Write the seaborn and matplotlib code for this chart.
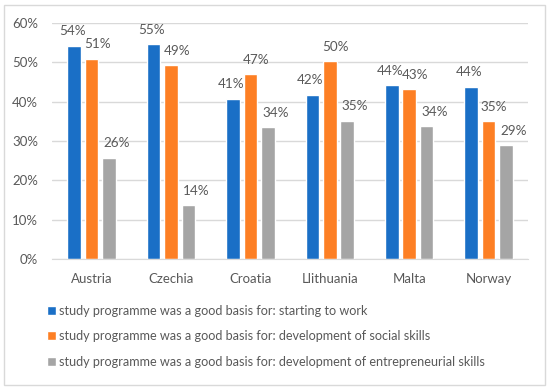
import numpy as np
import pandas as pd
import matplotlib
matplotlib.use("Agg")
import matplotlib.pyplot as plt
from matplotlib.patches import Rectangle
import seaborn as sns

countries = ["Austria", "Czechia", "Croatia", "Llithuania", "Malta", "Norway"]
series_names = [
    "study programme was a good basis for: starting to work",
    "study programme was a good basis for: development of social skills",
    "study programme was a good basis for: development of entrepreneurial skills",
]
start_work = [54.2, 54.7, 40.8, 41.8, 44.2, 43.8]
social = [50.9, 49.3, 47.0, 50.3, 43.2, 35.1]
entrepreneurial = [25.8, 13.6, 33.5, 35.2, 33.7, 29.0]
colors = ["#1a6fc6", "#fd7f24", "#a5a5a5"]

df = pd.DataFrame({
    "country": countries * 3,
    "series": [s for s in series_names for _ in countries],
    "value": start_work + social + entrepreneurial,
})

sns.set_style("white")
plt.rcParams["font.family"] = ["Lato", "DejaVu Sans"]

fig = plt.figure(figsize=(5.5, 3.9), dpi=100)
ax = fig.add_axes([0.0945, 0.336, 0.866, 0.605])

sns.barplot(
    data=df, x="country", y="value", hue="series",
    palette=colors, width=0.66, gap=0.22, ax=ax,
    saturation=1, legend=True, errorbar=None,
)

# label offsets like the Excel original (labels nudged right on later series)
x_nudge = [-1.5, 4.0, 5.5]
for cont, dx in zip(ax.containers, x_nudge):
    anns = ax.bar_label(cont, labels=[f"{v:.0f}%" for v in cont.datavalues],
                        padding=6, fontsize=9.7, color="#595959")
    for a in anns:
        a.xyann = (dx, 6)

ax.set_ylim(0, 60)
ax.set_yticks(range(0, 61, 10))
ax.set_yticklabels([f"{t}%" for t in range(0, 61, 10)])
ax.set_xlabel("")
ax.set_ylabel("")
ax.yaxis.grid(True, color="#d9d9d9", linewidth=1)
ax.set_axisbelow(True)
for s in ["left", "right", "top"]:
    ax.spines[s].set_visible(False)
ax.spines["bottom"].set_color("#d9d9d9")
ax.tick_params(axis="both", length=0, labelsize=9.5, labelcolor="#595959")
ax.tick_params(axis="x", pad=10)
ax.tick_params(axis="y", pad=10)

handles, labels = ax.get_legend_handles_labels()
ax.get_legend().remove()
fig.legend(handles, labels, loc="upper left", bbox_to_anchor=(0.077, 0.232),
           frameon=False, fontsize=9.1, labelcolor="#595959",
           handlelength=0.7, handleheight=0.7, handletextpad=0.25,
           labelspacing=1.08, borderaxespad=0)

fig.patches.append(Rectangle((0.008, 0.013), 0.982, 0.975, transform=fig.transFigure,
                             fill=False, edgecolor="#d9d9d9", linewidth=1))

fig.savefig("out.png", dpi=100)
